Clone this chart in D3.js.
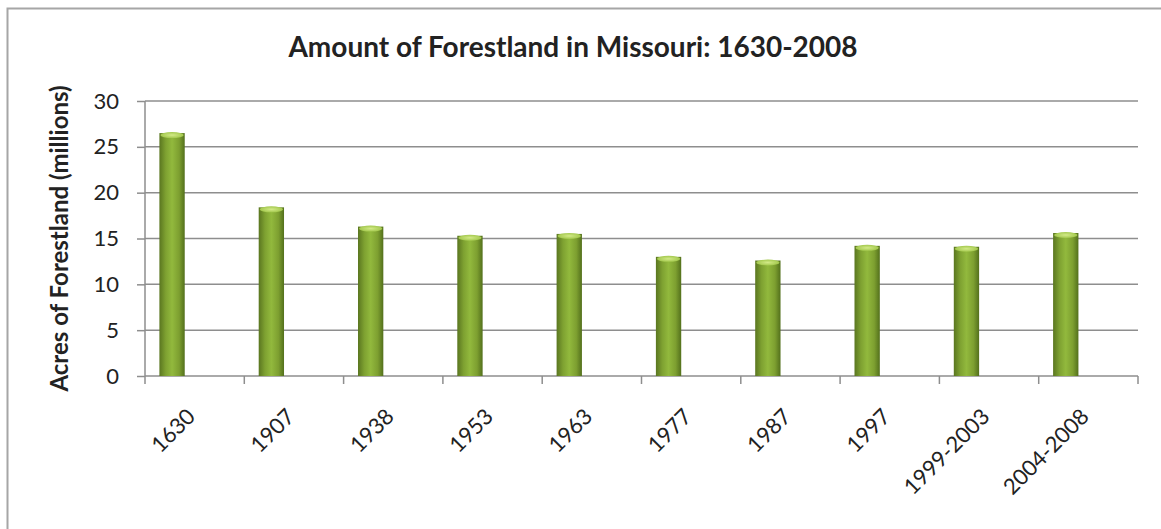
<!DOCTYPE html>
<html>
<head>
<meta charset="utf-8">
<script src="https://cdn.jsdelivr.net/npm/d3@7"></script>
<style>
  body { margin: 0; background: #fff; }
  svg { display: block; font-family: Lato, "Open Sans", sans-serif; }
</style>
</head>
<body>
<div id="chart"></div>
<script>
// chart data
const categories = ["1630", "1907", "1938", "1953", "1963", "1977", "1987", "1997", "1999-2003", "2004-2008"];
const acres = [26.5, 18.4, 16.3, 15.3, 15.5, 13.0, 12.6, 14.2, 14.1, 15.6];
const yTicks = [0, 5, 10, 15, 20, 25, 30];

const width = 1161;
const height = 529;
const margin = { left: 145, right: 23, top: 101, bottom: 153 };

const svg = d3.select("#chart")
  .append("svg")
  .attr("width", width)
  .attr("height", height);

// outer chart border (bottom and right run off the picture)
svg.append("rect")
  .attr("x", 7.5).attr("y", 8.5)
  .attr("width", width + 20).attr("height", height + 20)
  .attr("fill", "none")
  .attr("stroke", "#a6a6a6")
  .attr("stroke-width", 2);

const x = d3.scaleBand()
  .domain(categories)
  .range([margin.left, width - margin.right]);

const y = d3.scaleLinear()
  .domain([0, 30])
  .range([height - margin.bottom, margin.top]);

// cylinder-ish gradient for the bars
const defs = svg.append("defs");
const grad = defs.append("linearGradient")
  .attr("id", "barGrad")
  .attr("x1", "0%").attr("x2", "100%").attr("y1", "0%").attr("y2", "0%");
grad.append("stop").attr("offset", "0%").attr("stop-color", "#5a7620");
grad.append("stop").attr("offset", "25%").attr("stop-color", "#7ea131");
grad.append("stop").attr("offset", "50%").attr("stop-color", "#92b93d");
grad.append("stop").attr("offset", "78%").attr("stop-color", "#7d9f30");
grad.append("stop").attr("offset", "100%").attr("stop-color", "#53701c");

const capGrad = defs.append("radialGradient").attr("id", "capGrad");
capGrad.append("stop").attr("offset", "0%").attr("stop-color", "#d3ea88");
capGrad.append("stop").attr("offset", "100%").attr("stop-color", "#a3c84d");

// gridlines
svg.append("g")
  .selectAll("line")
  .data(yTicks.filter(d => d > 0))
  .enter().append("line")
  .attr("x1", margin.left)
  .attr("x2", width - margin.right)
  .attr("y1", d => y(d))
  .attr("y2", d => y(d))
  .attr("stroke", "#8e8e8e")
  .attr("stroke-width", 1.5);

// y axis
const yAxis = svg.append("g")
  .attr("transform", `translate(${margin.left},0)`)
  .call(d3.axisLeft(y).tickValues(yTicks).tickSize(8).tickPadding(18));
yAxis.selectAll("path, line").attr("stroke", "#8e8e8e").attr("stroke-width", 1.5);
yAxis.select(".domain").attr("d", `M0,${y(30)}V${y(0)}`);
yAxis.selectAll("text")
  .attr("fill", "#222")
  .style("font-size", "22px")
  .style("font-family", "Lato, sans-serif");

// x axis (ticks on category boundaries)
const xAxisG = svg.append("g")
  .attr("transform", `translate(0,${y(0)})`);
xAxisG.append("line")
  .attr("x1", margin.left).attr("x2", width - margin.right)
  .attr("stroke", "#8e8e8e").attr("stroke-width", 1.5);
const boundaries = categories.map(c => x(c)).concat([x.range()[1]]);
xAxisG.selectAll(".tick-mark")
  .data(boundaries)
  .enter().append("line")
  .attr("class", "tick-mark")
  .attr("x1", d => d).attr("x2", d => d)
  .attr("y1", 0).attr("y2", 8)
  .attr("stroke", "#8e8e8e").attr("stroke-width", 1.5);

xAxisG.selectAll(".xlabel")
  .data(categories)
  .enter().append("text")
  .attr("class", "xlabel")
  .attr("transform", d => `translate(${x(d) + x.bandwidth() / 2 + 2},${42}) rotate(-45)`)
  .attr("text-anchor", "end")
  .attr("fill", "#222")
  .style("font-size", "22px")
  .text(d => d);

// bars
const barOffset = x.bandwidth() * 0.145;
const barWidth = x.bandwidth() * 0.255;
const bars = svg.append("g")
  .selectAll("g")
  .data(categories.map((c, i) => ({ cat: c, value: acres[i] })))
  .enter().append("g");

bars.append("rect")
  .attr("x", d => x(d.cat) + barOffset)
  .attr("y", d => y(d.value))
  .attr("width", barWidth)
  .attr("height", d => y(0) - y(d.value))
  .attr("fill", "url(#barGrad)");

bars.append("ellipse")
  .attr("cx", d => x(d.cat) + barOffset + barWidth / 2)
  .attr("cy", d => y(d.value) + 2)
  .attr("rx", barWidth / 2 - 1)
  .attr("ry", 3)
  .attr("fill", "url(#capGrad)");

// title
svg.append("text")
  .attr("x", 573)
  .attr("y", 57)
  .attr("text-anchor", "middle")
  .attr("fill", "#222")
  .style("font-size", "28px")
  .style("font-weight", "bold")
  .text("Amount of Forestland in Missouri: 1630-2008");

// y axis title
svg.append("text")
  .attr("transform", `translate(68,${(y(0) + y(30)) / 2}) rotate(-90)`)
  .attr("text-anchor", "middle")
  .attr("fill", "#222")
  .style("font-size", "24px")
  .style("font-weight", "bold")
  .text("Acres of Forestland (millions)");
</script>
</body>
</html>
